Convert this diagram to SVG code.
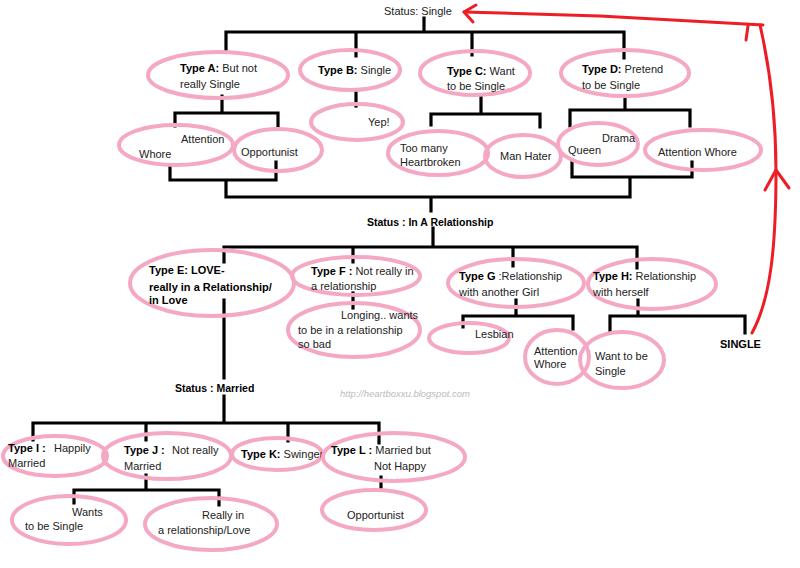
<svg xmlns="http://www.w3.org/2000/svg" width="800" height="568" viewBox="0 0 800 568">
<style>
.bg{fill:#fff}
.oval{fill:none;stroke:#f5a8c4;stroke-width:4}
.ln{fill:none;stroke:#000;stroke-width:3.2;stroke-linecap:square}
.red{fill:none;stroke:#ee1c24;stroke-width:3;stroke-linecap:round;stroke-linejoin:round}
text{font-family:"Liberation Sans",Arial,sans-serif;font-size:11px;fill:#222}
.b{font-weight:bold;fill:#000}
.st{font-weight:bold;font-size:10.5px;fill:#000}
.wm{fill:#bbb;font-size:9.5px;font-style:italic}
</style>
<rect class="bg" width="800" height="568"/>
<g id="connectors">
<path class="ln" d="M424 18V32M226 32H624M226 32V52M356 32V56M472 32V55M624 32V58"/>
<path class="ln" d="M222 96V113M175 113H278M175 113V126M278 113V126"/>
<path class="ln" d="M356 92V106"/>
<path class="ln" d="M481 97V114M431 114H540M431 114V125M540 114V127"/>
<path class="ln" d="M625 96V110M570 110H690M570 110V126M690 110V126"/>
<path class="ln" d="M170 165V180H276V162M226 180V197H630M572 160V177H692V162M630 177V197M431 197V211"/>
<path class="ln" d="M433 228V247M224 247H637M224 247V262M353 247V262M513 247V266M637 247V268"/>
<path class="ln" d="M353 293V308"/>
<path class="ln" d="M516 300V316M463 316H573M463 316V327M573 316V329"/>
<path class="ln" d="M638 300V316M610 316H745M610 316V333M745 316V333"/>
<path class="ln" d="M224 300V378M224 396V423M33 423H379M33 423V440M146 423V440M288 423V441M379 423V443"/>
<path class="ln" d="M146 475V490M74 490H219M74 490V503M219 490V505"/>
<path class="ln" d="M381 477V493" stroke-dasharray="5 3"/>
<path class="red" d="M752 333C770 300 776 250 776 172C776 110 768 60 760 25"/>
<path class="red" d="M464 12L600 16L745 24L763 25"/>
<path class="red" d="M476 5L464 12L473 22"/>
<path class="red" d="M746 40L748 26"/>
<path class="red" d="M765 190L776 170L789 188"/>
</g>
<g id="status-single"><text x="384" y="15">Status: Single</text></g>
<g id="typeA"><ellipse class="oval" cx="218" cy="75" rx="70" ry="23"/><text x="180" y="72"><tspan class="b">Type A:</tspan> But not</text><text x="180" y="88">really Single</text></g>
<g id="typeB"><ellipse class="oval" cx="350" cy="70" rx="50" ry="20"/><text x="318" y="74"><tspan class="b">Type B:</tspan> Single</text></g>
<g id="typeC"><ellipse class="oval" cx="475" cy="73" rx="55" ry="22"/><text x="447" y="75"><tspan class="b">Type C:</tspan> Want</text><text x="447" y="90">to be Single</text></g>
<g id="typeD"><ellipse class="oval" cx="625" cy="73" rx="64" ry="23"/><text x="582" y="73"><tspan class="b">Type D:</tspan> Pretend</text><text x="582" y="89">to be Single</text></g>
<g id="a-attention"><ellipse class="oval" cx="176" cy="145" rx="57" ry="20"/><text x="181" y="143">Attention</text><text x="139" y="158">Whore</text></g>
<g id="a-opportunist"><ellipse class="oval" cx="278" cy="150" rx="44" ry="21"/><text x="241" y="156">Opportunist</text></g>
<g id="b-yep"><ellipse class="oval" cx="357" cy="122" rx="46" ry="18"/><text x="368" y="126">Yep!</text></g>
<g id="c-heartbroken"><ellipse class="oval" cx="438" cy="153" rx="50" ry="22"/><text x="400" y="152">Too many</text><text x="400" y="166">Heartbroken</text></g>
<g id="c-manhater"><ellipse class="oval" cx="523" cy="156" rx="38" ry="21"/><text x="500" y="160">Man Hater</text></g>
<g id="d-drama"><ellipse class="oval" cx="598" cy="144" rx="40" ry="21"/><text x="602" y="142">Drama</text><text x="568" y="154">Queen</text></g>
<g id="d-attention"><ellipse class="oval" cx="703" cy="150" rx="58" ry="20"/><text x="658" y="156">Attention Whore</text></g>
<g id="status-rel"><text class="st" x="367" y="226">Status : In A Relationship</text></g>
<g id="typeE"><ellipse class="oval" cx="212" cy="283" rx="82" ry="33"/><text x="149" y="274"><tspan class="b">Type E: LOVE-</tspan></text><text class="b" x="149" y="291" font-size="10.5">really in a Relationship/</text><text class="b" x="149" y="304">in Love</text></g>
<g id="typeF"><ellipse class="oval" cx="356" cy="276" rx="64" ry="19"/><text x="311" y="275"><tspan class="b">Type F :</tspan> Not really in</text><text x="311" y="290">a relationship</text></g>
<g id="f-longing"><ellipse class="oval" cx="354" cy="330" rx="66" ry="27"/><text x="341" y="319">Longing.. wants</text><text x="298" y="334">to be in a relationship</text><text x="298" y="348">so bad</text></g>
<g id="typeG"><ellipse class="oval" cx="516" cy="283" rx="68" ry="24"/><text x="459" y="280"><tspan class="b">Type G</tspan> :Relationship</text><text x="459" y="296">with another Girl</text></g>
<g id="g-lesbian"><ellipse class="oval" cx="469" cy="338" rx="40" ry="15"/><text x="475" y="338">Lesbian</text></g>
<g id="g-attention"><ellipse class="oval" cx="557" cy="357" rx="32" ry="27"/><text x="534" y="355">Attention</text><text x="534" y="368">Whore</text></g>
<g id="typeH"><ellipse class="oval" cx="652" cy="284" rx="64" ry="25"/><text x="593" y="280"><tspan class="b">Type H:</tspan> Relationship</text><text x="593" y="296">with herself</text></g>
<g id="h-want"><ellipse class="oval" cx="622" cy="360" rx="42" ry="28"/><text x="595" y="360">Want to be</text><text x="595" y="375">Single</text></g>
<g id="h-single"><text class="b" x="720" y="348">SINGLE</text></g>
<g id="watermark"><text class="wm" x="340" y="397">http://heartboxxu.blogspot.com</text></g>
<g id="status-married"><text class="st" x="175" y="392">Status : Married</text></g>
<g id="typeI"><ellipse class="oval" cx="55" cy="456" rx="52" ry="20"/><text x="8" y="452"><tspan class="b">Type I :</tspan><tspan x="54">Happily</tspan></text><text x="8" y="467">Married</text></g>
<g id="typeJ"><ellipse class="oval" cx="167" cy="456" rx="64" ry="23"/><text x="124" y="454"><tspan class="b">Type J :</tspan><tspan x="172">Not really</tspan></text><text x="124" y="470">Married</text></g>
<g id="typeK"><ellipse class="oval" cx="277" cy="454" rx="45" ry="16"/><text x="241" y="458"><tspan class="b">Type K:</tspan> Swinger</text></g>
<g id="typeL"><ellipse class="oval" cx="394" cy="457" rx="71" ry="24"/><text x="331" y="454"><tspan class="b">Type L :</tspan> Married but</text><text x="374" y="470">Not Happy</text></g>
<g id="j-wants"><ellipse class="oval" cx="69" cy="520" rx="57" ry="24"/><text x="72" y="516">Wants</text><text x="25" y="530">to be Single</text></g>
<g id="j-really"><ellipse class="oval" cx="211" cy="524" rx="66" ry="26"/><text x="202" y="519">Really in</text><text x="158" y="534">a relationship/Love</text></g>
<g id="l-opportunist"><ellipse class="oval" cx="374" cy="510" rx="52" ry="20"/><text x="347" y="519">Opportunist</text></g>
</svg>
